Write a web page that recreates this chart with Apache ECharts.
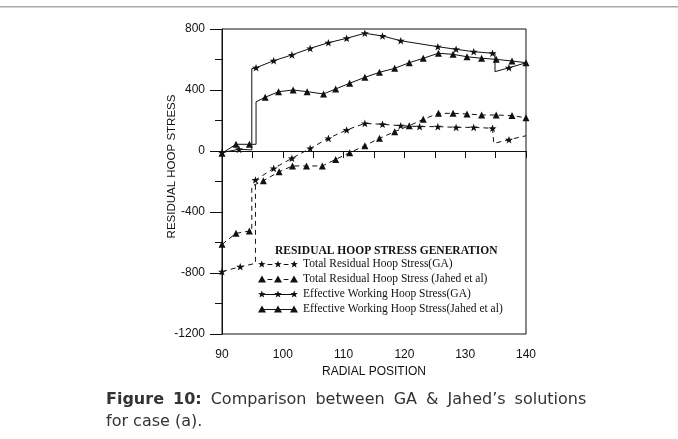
<!DOCTYPE html>
<html><head><meta charset="utf-8">
<script src="https://cdn.jsdelivr.net/npm/echarts@6/dist/echarts.min.js"></script>
<style>html,body{margin:0;padding:0;background:#fff}#c{width:678px;height:439px}</style>
</head><body><div id="c"></div>
<script>
// ---- data ----
const seriesNames = [
  'Total Residual Hoop Stress(GA)',
  'Total Residual Hoop Stress (Jahed et al)',
  'Effective Working Hoop Stress(GA)',
  'Effective Working Hoop Stress(Jahed et al)'
];
const gaResidualX = [90, 93, 95.5, 95.5, 98.5, 101.5, 104.5, 107.5, 110.5, 113.5, 116.4, 119.4, 122.5, 125.5, 128.5, 131.4, 134.5, 134.7, 137.2, 140];
const gaResidualY = [-791, -759, -737, -190, -114, -48, 17, 83, 138, 181, 175, 166, 160, 160, 155, 155, 149, 50, 74, 100];
const gaResidualMark = [1,1,0,1,1,1,1,1,1,1,1,1,1,1,1,1,1,0,1,0];

const jahedResidualX = [90, 92.3, 94.5, 94.9, 94.9, 96.8, 99.4, 101.6, 103.9, 106.5, 108.7, 111, 113.5, 115.9, 118.4, 120.8, 123.1, 125.6, 128, 130.3, 132.7, 135.1, 137.7, 140];
const jahedResidualY = [-612, -540, -525, -525, -230, -195, -136, -98, -98, -98, -55, -11, 35, 83, 127, 166, 208, 247, 247, 243, 236, 236, 232, 218];
const jahedResidualMark = [1,1,1,0,0,1,1,1,1,1,1,1,1,1,1,1,1,1,1,1,1,1,1,1];

const gaEffectiveX = [90, 92.8, 94.9, 94.9, 95.6, 98.5, 101.5, 104.5, 107.5, 110.5, 113.5, 116.4, 119.4, 125.5, 128.5, 131.4, 134.5, 134.9, 134.9, 137.2, 140];
const gaEffectiveY = [-10, 11, 7, 540, 546, 592, 630, 673, 710, 739, 772, 754, 723, 684, 667, 651, 641, 639, 520, 546, 578];
const gaEffectiveMark = [1,1,0,0,1,1,1,1,1,1,1,1,1,1,1,1,1,0,0,1,0];

const jahedEffectiveX = [90, 92.3, 94.5, 95.6, 95.6, 97.1, 99.3, 101.7, 104, 106.7, 108.7, 111, 113.5, 115.9, 118.4, 120.8, 123.1, 125.6, 128, 130.3, 132.7, 135.1, 137.7, 140];
const jahedEffectiveY = [-15, 44, 44, 44, 323, 352, 389, 400, 389, 374, 407, 444, 483, 516, 542, 579, 608, 641, 634, 618, 608, 601, 590, 579];
const jahedEffectiveMark = [1,1,1,0,0,1,1,1,1,1,1,1,1,1,1,1,1,1,1,1,1,1,1,1];

const xTickLabels = [90, 100, 110, 120, 130, 140];
const yTickLabels = [-1200, -800, -400, 0, 400, 800];

// ---- styling helpers ----
const STAR = 'path://M0,-10L2.35,-3.24L9.51,-3.09L3.8,1.24L5.88,8.09L0,4L-5.88,8.09L-3.8,1.24L-9.51,-3.09L-2.35,-3.24Z';
function starP(cx){return `M${cx},0L${cx+0.94},2.71L${cx+3.8},2.76L${cx+1.52},4.49L${cx+2.35},7.24L${cx},5.6L${cx-2.35},7.24L${cx-1.52},4.49L${cx-3.8},2.76L${cx-0.94},2.71Z`;}
function triP(cx){return `M${cx},0L${cx+4},7.24L${cx-4},7.24Z`;}
function rectP(a,b){return `M${a},3.6L${b},3.6L${b},4.6L${a},4.6Z`;}
const iconDashStar = 'path://' + starP(3.8) + rectP(9.5,14.3) + starP(20) + rectP(25.7,30.5) + starP(36.2);
const iconDashTri  = 'path://' + triP(4) + rectP(9.5,14.3) + triP(20) + rectP(25.7,30.5) + triP(36);
const iconSolidStar = 'path://' + rectP(3.8,36.2) + starP(3.8) + starP(20) + starP(36.2);
const iconSolidTri  = 'path://' + rectP(4,36) + triP(4) + triP(20) + triP(36);

function mkSeries(name, xs, ys, marks, symbol, size, dashed){
  return {
    name, type:'line', data: xs.map((x,i)=>[x, ys[i]]),
    symbol, symbolKeepAspect:true, showAllSymbol:true,
    symbolSize: (v, p) => marks[p.dataIndex] ? size : 0,
    itemStyle:{color:'#111'},
    lineStyle:{color:'#111', width:1, type: dashed ? [5,4] : 'solid'},
    emphasis:{disabled:true}, animation:false, z: 3
  };
}

const chart = echarts.init(document.getElementById('c'), null, {renderer:'canvas'});
const axisFont = 'Liberation Sans';
chart.setOption({
  animation:false,
  backgroundColor:'#fff',
  grid:{left:222, top:29, width:304, height:305, show:true, borderColor:'#111', borderWidth:1, containLabel:false},
  title:{text:'RESIDUAL HOOP STRESS GENERATION', left:275, top:245, padding:0,
    textStyle:{fontFamily:'Liberation Serif', fontWeight:'bold', fontSize:11.5, color:'#111'}},
  legend:{orient:'vertical', left:258, top:257, padding:0, itemGap:1, itemWidth:40, itemHeight:7.24,
    textStyle:{fontFamily:'Liberation Serif', fontSize:11.5, color:'#111', lineHeight:14},
    data:[
      {name:seriesNames[0], icon:iconDashStar},
      {name:seriesNames[1], icon:iconDashTri},
      {name:seriesNames[2], icon:iconSolidStar},
      {name:seriesNames[3], icon:iconSolidTri}
    ], selectedMode:false},
  xAxis:{type:'value', min:90, max:140, interval:5,
    name:'RADIAL POSITION', nameLocation:'middle', nameGap:32, nameMoveOverlap:false,
    nameTextStyle:{fontFamily:axisFont, fontSize:12, color:'#111'},
    axisLine:{lineStyle:{color:'#111', width:1}},
    axisTick:{show:true, inside:false, length:7, lineStyle:{color:'#111'}},
    axisLabel:{fontFamily:axisFont, fontSize:12, color:'#111', margin:15,
      formatter: v => xTickLabels.includes(v) ? String(v) : ''},
    splitLine:{show:false}},
  yAxis:{type:'value', min:-1200, max:800, interval:400,
    name:'RESIDUAL HOOP STRESS', nameLocation:'middle', nameGap:44, nameMoveOverlap:false,
    nameTextStyle:{fontFamily:axisFont, fontSize:11.5, color:'#111', padding:[0,0,0,30]},
    axisLine:{lineStyle:{color:'#111', width:1}},
    axisTick:{show:true, inside:false, length:12, lineStyle:{color:'#111'}},
    minorTick:{show:true, splitNumber:2, length:7, lineStyle:{color:'#111'}},
    axisLabel:{fontFamily:axisFont, fontSize:12, color:'#111', margin:17,
      formatter: v => yTickLabels.includes(v) ? String(v) : ''},
    splitLine:{show:false}},
  graphic:[
    {type:'rect', shape:{x:0, y:6, width:678, height:1.5}, style:{fill:'#aaaaaa'}, silent:true},
    {type:'text', left:106, top:389, silent:true,
      style:{
        text:'{b|Figure}{g| }{b|10:}{g| }Comparison{g| }between{g| }GA{g| }&{g| }Jahed’s{g| }solutions\nfor case (a).',
        fontFamily:'DejaVu Sans', fontSize:16, fill:'#333', lineHeight:22,
        rich:{
          b:{fontFamily:'DejaVu Sans', fontWeight:'bold', fontSize:16, fill:'#333', lineHeight:22},
          g:{width:9, fontSize:16, lineHeight:22}
        }
      }}
  ],
  series:[
    mkSeries(seriesNames[0], gaResidualX, gaResidualY, gaResidualMark, STAR, 8, true),
    mkSeries(seriesNames[1], jahedResidualX, jahedResidualY, jahedResidualMark, 'triangle', 7, true),
    mkSeries(seriesNames[2], gaEffectiveX, gaEffectiveY, gaEffectiveMark, STAR, 8, false),
    mkSeries(seriesNames[3], jahedEffectiveX, jahedEffectiveY, jahedEffectiveMark, 'triangle', 7, false)
  ]
});
</script></body></html>
